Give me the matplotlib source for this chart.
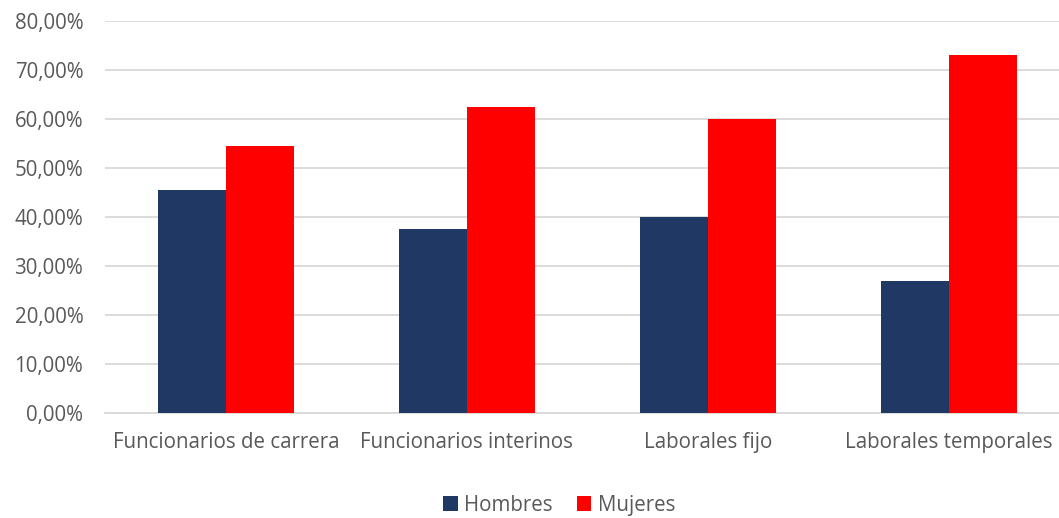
import numpy as np
import matplotlib.pyplot as plt
from matplotlib.ticker import FuncFormatter

categorias = ['Funcionarios de carrera', 'Funcionarios interinos',
              'Laborales fijo', 'Laborales temporales']
hombres = [45.5, 37.5, 40.0, 27.0]
mujeres = [54.5, 62.5, 60.0, 73.0]

plt.rcParams['font.family'] = ['Open Sans', 'DejaVu Sans']

fig = plt.figure(figsize=(10.59, 5.18), dpi=100)
ax = fig.add_axes([0.0996, 0.2027, 0.910, 0.7568])

x = np.arange(len(categorias))
w = 0.282
ax.bar(x - w / 2, hombres, w, color='#203864', label='Hombres', zorder=3)
ax.bar(x + w / 2, mujeres, w, color='#ff0000', label='Mujeres', zorder=3)

ax.set_xlim(-0.5, len(categorias) - 0.5)
ax.set_ylim(0, 80)
ax.set_yticks(np.arange(0, 81, 10))
ax.yaxis.set_major_formatter(FuncFormatter(lambda v, p: f'{v:.2f}%'.replace('.', ',')))
ax.set_xticks(x)
ax.set_xticklabels(categorias)
ax.grid(axis='y', color='#d9d9d9', linewidth=1.3, zorder=0)
for s in ['top', 'right', 'left']:
    ax.spines[s].set_visible(False)
ax.spines['bottom'].set_color('#d9d9d9')
ax.spines['bottom'].set_linewidth(1.3)
ax.tick_params(length=0, labelsize=14.8, colors='#595959')
ax.tick_params(axis='y', pad=16)
ax.tick_params(axis='x', pad=14)

fig.legend(loc='center', bbox_to_anchor=(0.528, 0.025), ncol=2, frameon=False,
           fontsize=14.8, labelcolor='#595959', handlelength=0.7, handleheight=0.7,
           handletextpad=0.3, columnspacing=1.2)

fig.savefig('out.png', dpi=100)
